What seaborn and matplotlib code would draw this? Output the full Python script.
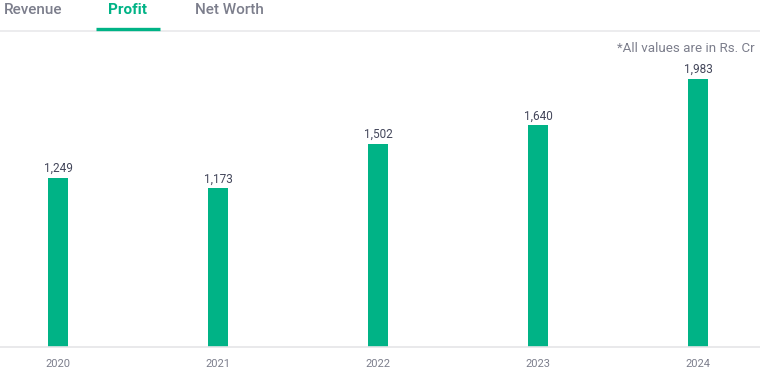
import matplotlib
matplotlib.use("Agg")
import matplotlib.pyplot as plt
import seaborn as sns
import pandas as pd

years = ["2020", "2021", "2022", "2023", "2024"]
profit = [1249, 1173, 1502, 1640, 1983]
value_labels = ["1,249", "1,173", "1,502", "1,640", "1,983"]
tabs = ["Revenue", "Profit", "Net Worth"]
note = "*All values are in Rs. Cr"

GREEN = "#00b386"
GRAY = "#7c7e8c"
DARK = "#44475b"

sns.set_theme(style="white")
plt.rcParams['font.family'] = ['Roboto', 'DejaVu Sans']

W, H = 760, 388
fig = plt.figure(figsize=(W / 100, H / 100), dpi=100)

# axes: baseline at y=347px from top, top at 35px
base_px = 347
top_px = 35
ax = fig.add_axes([0, (H - base_px) / H, 1, (base_px - top_px) / H])

df = pd.DataFrame({"year": years, "profit": profit})
sns.barplot(data=df, x="year", y="profit", color=GREEN, width=0.125,
            saturation=1, ax=ax, edgecolor="none")

px_per_unit = 268 / 1983
ax.set_xlim(-58 / 160, 4 + 62 / 160)
ax.set_ylim(0, (base_px - top_px) / px_per_unit)

for i, (v, lab) in enumerate(zip(profit, value_labels)):
    ax.annotate(lab, (i, v), xytext=(0, 2.2), textcoords="offset points",
                ha="center", va="bottom", fontsize=8.5, color=DARK)

for s in ["top", "right", "left"]:
    ax.spines[s].set_visible(False)
ax.spines["bottom"].set_color("#e5e5e8")
ax.spines["bottom"].set_linewidth(1.2)
ax.set_yticks([])
ax.set_xlabel("")
ax.set_ylabel("")
ax.tick_params(axis="x", length=0, pad=8.5, labelsize=8, labelcolor=GRAY)

# tabs
tab_x = [4, 108, 195]
for t, x in zip(tabs, tab_x):
    fig.text(x / W, 1 - 10 / H, t, ha="left", va="center", fontsize=11,
             fontweight="medium" if t != "Profit" else "bold",
             color=GREEN if t == "Profit" else GRAY)

# gray separator and green underline
fig.add_artist(plt.Line2D([0, 1], [1 - 31 / H, 1 - 31 / H], color="#e9e9eb", lw=1.2,
                          transform=fig.transFigure))
fig.add_artist(plt.Line2D([96 / W, 160 / W], [1 - 29 / H, 1 - 29 / H], color=GREEN, lw=2.4,
                          transform=fig.transFigure, solid_capstyle="butt"))

fig.text(755 / W, 1 - 48 / H, note, ha="right", va="center", fontsize=9.6, color=GRAY)

fig.savefig("out.png", dpi=100)
